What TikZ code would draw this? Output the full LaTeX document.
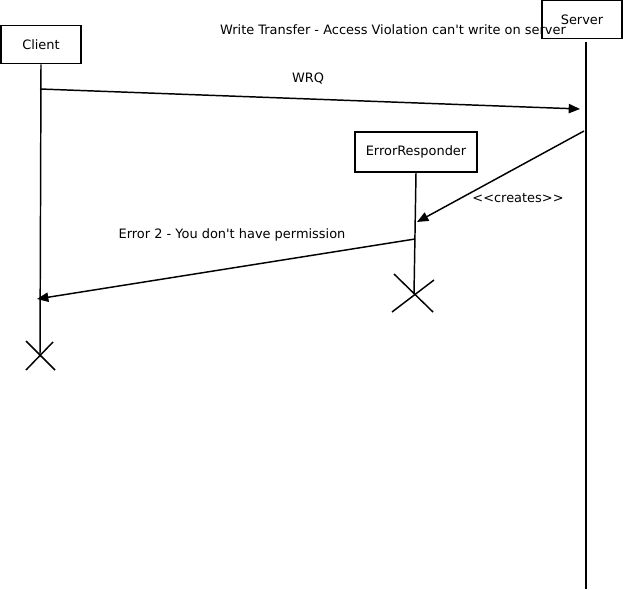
\documentclass[tikz,border=0pt]{standalone}
\usepackage{fontspec}
\setmainfont{DejaVu Sans}
\usetikzlibrary{arrows.meta}
\begin{document}
\begin{tikzpicture}[x=0.75pt,y=-0.75pt,
  every node/.style={font=\fontsize{9.7pt}{11pt}\selectfont},
  obj/.style={draw,line width=1.2pt,minimum height=28.5pt,inner sep=0pt},
  life/.style={line width=1.1pt},
  msg/.style={line width=1.1pt,-{Triangle[length=8.5pt,width=7pt]}},
  lbl/.style={inner sep=0pt}]
\useasboundingbox (0,0) rectangle (623,589);
% objects
\node[obj,minimum width=60pt] (client) at (41,44.5) {Client};
\node[obj,minimum width=60pt] (server) at (582,19.5) {Server};
\node[obj,minimum width=91.5pt,minimum height=30pt] (err) at (416,152) {ErrorResponder};
% lifeline coordinates
\coordinate (cEnd) at (40,357);
\coordinate (sEnd) at (586,589);
\coordinate (sTop) at (586,42);
\coordinate (eEnd) at (414,294);
\coordinate (cA) at (40,89);
\coordinate (sA) at (580,109);
\coordinate (sB) at (584,131);
\coordinate (eB) at (417,222);
\coordinate (eC) at (415,239);
\coordinate (cC) at (37,299);
% lifelines
\draw[life] (client.south) -- (cEnd);
\draw[life] (sTop) -- (sEnd);
\draw[life] (err.south) -- (eEnd);
% destruction marks
\coordinate (x1a) at (26,341); \coordinate (x1b) at (55,370);
\coordinate (x1c) at (26,370); \coordinate (x1d) at (53,342);
\draw[life] (x1a) -- (x1b); \draw[life] (x1c) -- (x1d);
\coordinate (x2a) at (394,274); \coordinate (x2b) at (433,312);
\coordinate (x2c) at (392,312); \coordinate (x2d) at (434,280);
\draw[life] (x2a) -- (x2b); \draw[life] (x2c) -- (x2d);
% messages
\draw[msg] (cA) -- (sA);
\draw[msg] (sB) -- (eB);
\draw[msg] (eC) -- (cC);
% labels
\node[lbl] (title) at (393,30) {Write Transfer - Access Violation can\textquotesingle t write on server};
\node[lbl] (wrq) at (308,78.5) {WRQ};
\node[lbl] (creates) at (518,198.5) {<{}<creates>{}>};
\node[lbl] (errmsg) at (232,234.5) {Error 2 - You don\textquotesingle t have permission};
\end{tikzpicture}
\end{document}
